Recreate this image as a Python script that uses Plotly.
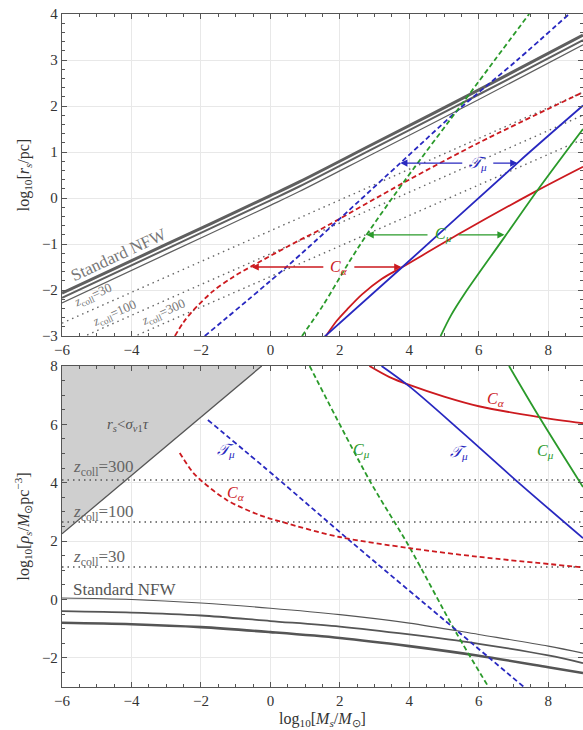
import plotly.graph_objects as go

# ---------------- data ----------------
# Top panel: log10[rs/pc] vs log10[Ms/Msun]
nfw_top_x = [-6, -3, 0, 0.83, 3, 6, 9]
nfw_top_thick = [-2.07, -1.01, 0.05, 0.35, 1.19, 2.35, 3.54]
nfw_top_mid = [-2.17, -1.11, -0.05, 0.25, 1.09, 2.25, 3.43]
nfw_top_thin = [-2.28, -1.22, -0.16, 0.14, 0.98, 2.14, 3.33]

zc_top_x = [-6, 9]
zc30_top = [-2.72, 2.3]
zc100_top = [-3.22, 1.8]
zc300_top = [-3.7, 1.28]

ca_dash_top_x = [-2.75, -2.5, -2.23, -1.66, -1.08, -0.51, 0.83, 1.4, 3.9, 6.0, 9.0]
ca_dash_top_y = [-3.0, -2.7, -2.45, -2.03, -1.72, -1.47, -0.92, -0.7, 0.36, 1.2, 2.3]

tm_dash_top_x = [-1.89, 0.46, 3.74, 5.4, 7.11, 8.6]
tm_dash_top_y = [-3.0, -1.5, 0.76, 1.91, 3.0, 4.0]

cm_dash_top_x = [0.91, 1.5, 2.26, 2.77, 3.89, 5.6, 6.46, 7.45]
cm_dash_top_y = [-3.0, -2.35, -1.4, -0.8, 0.4, 2.13, 3.0, 4.0]

ca_solid_top_x = [1.6, 1.9, 2.2, 2.63, 3.2, 3.8, 5.5, 7.65, 9.0]
ca_solid_top_y = [-3.0, -2.68, -2.43, -2.1, -1.76, -1.5, -0.75, 0.15, 0.68]

tm_solid_top_x = [1.55, 3.8, 7.11, 9.0]
tm_solid_top_y = [-3.02, -1.5, 0.76, 2.01]

cm_solid_top_x = [4.9, 5.2, 5.6, 6.74, 7.69, 9.0]
cm_solid_top_y = [-3.0, -2.55, -2.07, -0.85, 0.17, 1.5]

# arrows (label x, left tip x, right tip x, y)
arrow_tm = [5.97, 3.74, 7.11, 0.76]
arrow_cm = [4.97, 2.77, 6.74, -0.8]
arrow_ca = [1.97, -0.54, 3.77, -1.5]

# Bottom panel: log10[rho_s] vs log10[Ms/Msun]
tri_x = [-6, -0.25, -6]
tri_y = [2.25, 8.0, 8.0]

zc_bot_x = [-6, 9]
zc300_bot = [4.09, 4.09]
zc100_bot = [2.65, 2.65]
zc30_bot = [1.11, 1.11]

nfw_bot_x = [-6, -4, -2, 0, 2, 4, 6, 8, 9]
nfw_bot_thin = [0.05, 0.0, -0.12, -0.3, -0.52, -0.81, -1.2, -1.6, -1.84]
nfw_bot_mid = [-0.4, -0.45, -0.55, -0.74, -0.93, -1.2, -1.52, -1.92, -2.18]
nfw_bot_thick = [-0.8, -0.85, -0.95, -1.12, -1.32, -1.6, -1.93, -2.32, -2.52]

ca_solid_bot_x = [2.85, 3.43, 4.0, 5.0, 6.0, 7.74, 9.0]
ca_solid_bot_y = [8.0, 7.62, 7.35, 6.95, 6.62, 6.25, 6.04]

tm_solid_bot_x = [3.2, 4.0, 5.5, 7.06, 9.0]
tm_solid_bot_y = [8.0, 7.3, 5.75, 4.09, 2.1]

cm_solid_bot_x = [6.87, 7.74, 9.0]
cm_solid_bot_y = [8.0, 6.25, 3.85]

cm_dash_bot_x = [1.13, 2.85, 4.0, 5.33, 6.28]
cm_dash_bot_y = [8.0, 4.09, 1.8, -1.1, -3.0]

tm_dash_bot_x = [-1.8, 0.26, 2.3, 5.4, 7.3]
tm_dash_bot_y = [6.15, 4.09, 2.0, -1.1, -3.0]

ca_dash_bot_x = [-2.61, -2.23, -1.98, -1.26, -0.31, 0.35, 1.99, 4.0, 6.0, 9.0]
ca_dash_bot_y = [5.02, 4.35, 4.06, 3.41, 2.89, 2.65, 2.14, 1.76, 1.46, 1.1]

x_ticks = [-6, -4, -2, 0, 2, 4, 6, 8]
y_top_ticks = [-3, -2, -1, 0, 1, 2, 3, 4]
y_bot_ticks = [-2, 0, 2, 4, 6, 8]

# ---------------- styles ----------------
RED = "#cc1a1f"
BLUE = "#2828c0"
GREEN = "#2a9a2a"
GREY = "#5f5f5f"
FONT = "Liberation Serif"
DASH = "5px,3px"
DOT = "1.5px,4px"

fig = go.Figure()


def line(x, y, color, width, dash="solid", xa="x", ya="y", fill=None, fillcolor=None, smooth=True):
    fig.add_trace(go.Scatter(
        x=x, y=y, mode="lines", xaxis=xa, yaxis=ya,
        line=dict(color=color, width=width, dash=dash,
                  shape="spline" if (smooth and len(x) > 2) else "linear", smoothing=0.9),
        fill=fill, fillcolor=fillcolor, showlegend=False, hoverinfo="skip"))


# ---- top panel ----
for yy in (zc30_top, zc100_top, zc300_top):
    line(zc_top_x, yy, "#666666", 1.4, DOT)
line(nfw_top_x, nfw_top_thick, GREY, 3.0)
line(nfw_top_x, nfw_top_mid, GREY, 2.0)
line(nfw_top_x, nfw_top_thin, GREY, 1.2)

line(ca_dash_top_x, ca_dash_top_y, RED, 1.8, DASH)
line(tm_dash_top_x, tm_dash_top_y, BLUE, 1.8, DASH)
line(cm_dash_top_x, cm_dash_top_y, GREEN, 1.8, DASH)
line(ca_solid_top_x, ca_solid_top_y, RED, 1.8)
line(tm_solid_top_x, tm_solid_top_y, BLUE, 1.8)
line(cm_solid_top_x, cm_solid_top_y, GREEN, 1.8)

# ---- bottom panel ----
line(tri_x, tri_y, "rgba(0,0,0,0)", 0, xa="x2", ya="y2", fill="toself", fillcolor="#cfcfcf", smooth=False)
line(tri_x[:2], tri_y[:2], "#555555", 1.3, xa="x2", ya="y2")
for yy in (zc300_bot, zc100_bot, zc30_bot):
    line(zc_bot_x, yy, "#555555", 1.5, DOT, "x2", "y2")
line(nfw_bot_x, nfw_bot_thin, "#555555", 1.1, xa="x2", ya="y2")
line(nfw_bot_x, nfw_bot_mid, "#555555", 1.8, xa="x2", ya="y2")
line(nfw_bot_x, nfw_bot_thick, "#555555", 2.6, xa="x2", ya="y2")

line(ca_solid_bot_x, ca_solid_bot_y, RED, 1.8, xa="x2", ya="y2")
line(tm_solid_bot_x, tm_solid_bot_y, BLUE, 1.8, xa="x2", ya="y2")
line(cm_solid_bot_x, cm_solid_bot_y, GREEN, 1.8, xa="x2", ya="y2")
line(cm_dash_bot_x, cm_dash_bot_y, GREEN, 1.8, DASH, "x2", "y2")
line(tm_dash_bot_x, tm_dash_bot_y, BLUE, 1.8, DASH, "x2", "y2")
line(ca_dash_bot_x, ca_dash_bot_y, RED, 1.8, DASH, "x2", "y2")

annotations = []


def label(x, y, text, color, size, xa="x", ya="y", angle=0, xanchor="center"):
    annotations.append(dict(
        x=x, y=y, xref=xa, yref=ya, text=text, showarrow=False,
        font=dict(family=FONT, size=size, color=color),
        textangle=angle, xanchor=xanchor, yanchor="middle"))


def arrows(spec, text, color):
    lx, tl, tr, yy = spec
    for tip in (tl, tr):
        annotations.append(dict(
            x=tip, y=yy, ax=lx, ay=yy, xref="x", yref="y", axref="x", ayref="y",
            text="", showarrow=True, arrowhead=2, arrowsize=1.1, arrowwidth=1.3,
            arrowcolor=color, startstandoff=14))
    label(lx, yy, text, color, 16)


TMU = "<i>𝒯</i><sub><i>μ</i></sub>"
CMU = "<i>C</i><sub><i>μ</i></sub>"
CAL = "<i>C</i><sub><i>α</i></sub>"

arrows(arrow_tm, TMU, BLUE)
arrows(arrow_cm, CMU, GREEN)
arrows(arrow_ca, CAL, RED)

label(-4.36, -1.22, "Standard NFW", "#777777", 17, angle=-25)
label(-5.1, -2.12, "<i>z</i><sub>coll</sub>=30", "#777777", 13, angle=-24)
label(-4.48, -2.5, "<i>z</i><sub>coll</sub>=100", "#777777", 13, angle=-24)
label(-3.07, -2.48, "<i>z</i><sub>coll</sub>=300", "#777777", 13, angle=-24)

label(-4.1, 5.98, "<i>r</i><sub><i>s</i></sub>&lt;<i>σ</i><sub><i>v</i>1</sub><i>τ</i>", "#555555", 15, "x2", "y2")
label(-5.74, 4.5, "<i>z</i><sub>coll</sub>=300", "#666666", 17, "x2", "y2", xanchor="left")
label(-5.74, 2.96, "<i>z</i><sub>coll</sub>=100", "#666666", 17, "x2", "y2", xanchor="left")
label(-5.74, 1.42, "<i>z</i><sub>coll</sub>=30", "#666666", 17, "x2", "y2", xanchor="left")
label(-5.74, 0.34, "Standard NFW", "#555555", 17, "x2", "y2", xanchor="left")

label(6.49, 6.84, CAL, RED, 16, "x2", "y2")
label(5.44, 5.02, TMU, BLUE, 16, "x2", "y2")
label(7.93, 5.06, CMU, GREEN, 16, "x2", "y2")
label(2.62, 5.12, CMU, GREEN, 16, "x2", "y2")
label(-1.29, 5.12, TMU, BLUE, 16, "x2", "y2")
label(-1.0, 3.64, CAL, RED, 16, "x2", "y2")

axis_common = dict(
    showgrid=True, gridcolor="#e8e8e8", gridwidth=1,
    showline=True, linecolor="#555555", linewidth=1.3, mirror="allticks",
    ticks="inside", ticklen=5, tickwidth=1.1, tickcolor="#555555",
    tickfont=dict(family=FONT, size=15, color="#333333"),
    zeroline=False,
)


def minus(vals):
    return [str(v).replace("-", "−") for v in vals]


fig.update_layout(
    width=583, height=730,
    margin=dict(l=62, r=0, t=14, b=43),
    plot_bgcolor="white", paper_bgcolor="white",
    font=dict(family=FONT, color="#333333"),
    annotations=annotations,
    xaxis=dict(axis_common, domain=[0, 1], anchor="y", range=[-6, 9],
               tickvals=x_ticks, ticktext=minus(x_ticks),
               minor=dict(ticks="inside", ticklen=3, dtick=0.5, tick0=0, tickcolor="#555555",
                          showgrid=False)),
    yaxis=dict(axis_common, domain=[0.5215, 1], anchor="x", range=[-3, 4],
               tickvals=y_top_ticks, ticktext=minus(y_top_ticks),
               minor=dict(ticks="inside", ticklen=3, dtick=0.2, tick0=0, tickcolor="#555555",
                          showgrid=False),
               title=dict(text="log<sub>10</sub>[<i>r</i><sub><i>s</i></sub>/pc]",
                          font=dict(family=FONT, size=16, color="#333333"), standoff=8)),
    xaxis2=dict(axis_common, domain=[0, 1], anchor="y2", range=[-6, 9],
                tickvals=x_ticks, ticktext=minus(x_ticks),
                minor=dict(ticks="inside", ticklen=3, dtick=0.5, tick0=0, tickcolor="#555555",
                           showgrid=False),
                title=dict(text="log<sub>10</sub>[<i>M</i><sub><i>s</i></sub>/<i>M</i><sub>⊙</sub>]",
                           font=dict(family=FONT, size=16, color="#333333"), standoff=4)),
    yaxis2=dict(axis_common, domain=[0, 0.477], anchor="x2", range=[-3, 8],
                tickvals=y_bot_ticks, ticktext=minus(y_bot_ticks),
                minor=dict(ticks="inside", ticklen=3, dtick=0.5, tick0=0, tickcolor="#555555",
                           showgrid=False),
                title=dict(text="log<sub>10</sub>[<i>ρ</i><sub><i>s</i></sub>/<i>M</i><sub>⊙</sub>pc<sup>−3</sup>]",
                           font=dict(family=FONT, size=16, color="#333333"), standoff=8)),
)

fig.write_html("out.html")
